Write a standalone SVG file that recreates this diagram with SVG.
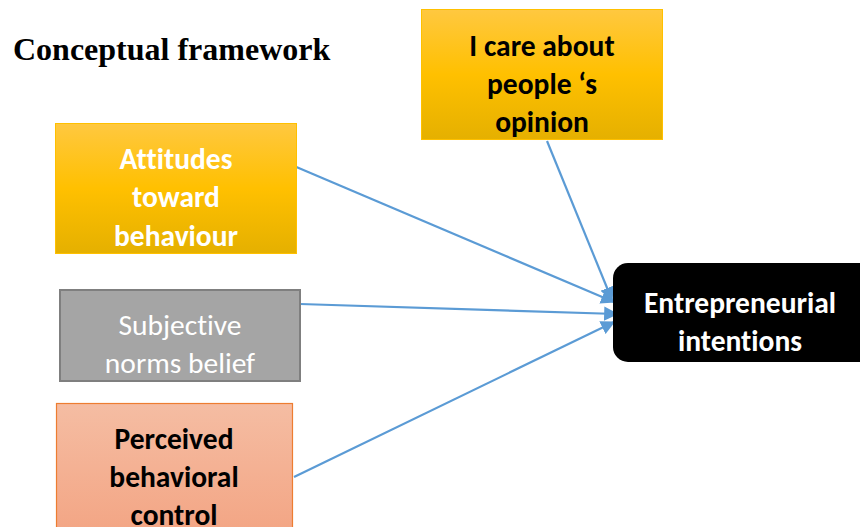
<svg xmlns="http://www.w3.org/2000/svg" width="860" height="527" viewBox="0 0 860 527">
  <defs>
    <linearGradient id="gold" x1="0" y1="0" x2="0" y2="1">
      <stop offset="0" stop-color="#FFC840"/>
      <stop offset="0.5" stop-color="#FFC000"/>
      <stop offset="1" stop-color="#E5B000"/>
    </linearGradient>
    <linearGradient id="salmon" x1="0" y1="0" x2="0" y2="1">
      <stop offset="0" stop-color="#F5BDA3"/>
      <stop offset="1" stop-color="#F3A584"/>
    </linearGradient>
    <marker id="arrow" viewBox="0 0 10 10" refX="9" refY="5" markerWidth="6.5" markerHeight="6.5" orient="auto" markerUnits="strokeWidth">
      <path d="M0,0 L10,5 L0,10 z" fill="#5B9BD5"/>
    </marker>
    <style>
      .title { font-family: "Liberation Serif", "Times New Roman", serif; font-weight: bold; font-size: 32px; fill: #000; }
      .lbl { font-family: Carlito, Calibri, "Open Sans", "Noto Sans", sans-serif; font-size: 29.5px; text-anchor: middle; font-variant-ligatures: none; }
      .bold { font-weight: bold; }
      .conn { stroke: #5B9BD5; stroke-width: 2.2; fill: none; marker-end: url(#arrow); }
    </style>
  </defs>

  <rect width="860" height="527" fill="#FFFFFF"/>

  <text class="title" x="13" y="60">Conceptual framework</text>

  <g id="connectors">
    <line class="conn" x1="294" y1="166" x2="614" y2="302"/>
    <line class="conn" x1="547" y1="141" x2="612" y2="300"/>
    <line class="conn" x1="300" y1="304" x2="617" y2="314"/>
    <line class="conn" x1="294" y1="477" x2="614" y2="322"/>
  </g>

  <g id="care">
    <rect x="421.5" y="9.5" width="241" height="130" fill="url(#gold)" stroke="#FFC000" stroke-width="1"/>
    <text class="lbl bold" x="542" y="56" fill="#000">I care about</text>
    <text class="lbl bold" x="542" y="94" fill="#000">people ‘s</text>
    <text class="lbl bold" x="542" y="132" fill="#000">opinion</text>
  </g>

  <g id="attitudes">
    <rect x="55.5" y="123.5" width="241" height="130" fill="url(#gold)" stroke="#FFC000" stroke-width="1"/>
    <text class="lbl bold" x="176" y="169" fill="#FFFFFF">Attitudes</text>
    <text class="lbl bold" x="176" y="207" fill="#FFFFFF">toward</text>
    <text class="lbl bold" x="176" y="246" fill="#FFFFFF">behaviour</text>
  </g>

  <g id="subjective">
    <rect x="60" y="290" width="240" height="91" fill="#A5A5A5" stroke="#7F7F7F" stroke-width="2"/>
    <text class="lbl" x="180" y="335" fill="#FFFFFF">Subjective</text>
    <text class="lbl" x="180" y="373" fill="#FFFFFF">norms belief</text>
  </g>

  <g id="perceived">
    <rect x="56.5" y="403.5" width="236" height="130" fill="url(#salmon)" stroke="#ED7D31" stroke-width="1.2"/>
    <text class="lbl bold" x="174" y="449" fill="#000">Perceived</text>
    <text class="lbl bold" x="174" y="487" fill="#000">behavioral</text>
    <text class="lbl bold" x="174" y="525" fill="#000">control</text>
  </g>

  <g id="intentions">
    <rect x="613" y="263" width="262" height="99" rx="15" ry="15" fill="#000000"/>
    <text class="lbl bold" x="740" y="313" fill="#FFFFFF">Entrepreneurial</text>
    <text class="lbl bold" x="740" y="351" fill="#FFFFFF">intentions</text>
  </g>
</svg>
